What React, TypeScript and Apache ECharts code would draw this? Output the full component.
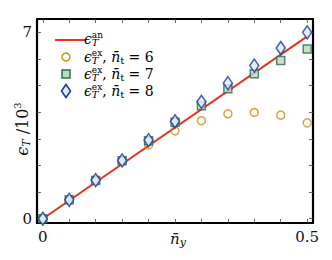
import React, { useEffect, useRef } from "react";
import * as echarts from "echarts";

const nyValues = [0, 0.05, 0.1, 0.15, 0.2, 0.25, 0.3, 0.35, 0.4, 0.45, 0.5];
const analyticX = [0, 0.5];
const analyticY = [0, 6.85];
const exact6 = [0, 0.71, 1.44, 2.16, 2.77, 3.3, 3.68, 3.94, 3.99, 3.89, 3.6];
const exact7 = [0, 0.71, 1.44, 2.18, 2.93, 3.62, 4.24, 4.88, 5.44, 5.94, 6.37];
const exact8 = [0, 0.71, 1.45, 2.19, 2.95, 3.66, 4.39, 5.09, 5.75, 6.41, 7.0];
const xTicks = [0, 0.05, 0.1, 0.15, 0.2, 0.25, 0.3, 0.35, 0.4, 0.45, 0.5];
const xTickLabels = [0, 0.5];
const yTicks = [0, 1, 2, 3, 4, 5, 6, 7];
const yTickLabels = [0, 7];
const nbarValues = ["6", "7", "8"];

const SERIF = "'DejaVu Serif', 'Liberation Serif', serif";
const LINE_COLOR = "#e2351a";
const C6 = "#d18c12";
const C7_BORDER = "#2f6b4f";
const C7_FILL = "#b9dcc0";
const C8_BORDER = "#1f3ba0";
const C8_FILL = "#e4ecff";

function makeRich(base: number): any {
  const small = Math.round(base * 0.64);
  return {
    e: { fontFamily: SERIF, fontStyle: "italic", fontSize: base, color: "#111" },
    sup: { fontFamily: SERIF, fontSize: small, color: "#111", padding: [0, 0, Math.round(base * 0.6), 0] },
    subz: { fontFamily: SERIF, fontStyle: "italic", fontSize: small + 1, color: "#111", width: 0, padding: [Math.round(base * 0.47), 0, 0, 0] },
    sub: { fontFamily: SERIF, fontStyle: "italic", fontSize: small + 1, color: "#111", padding: [Math.round(base * 0.47), 0, 0, 0] },
    subr: { fontFamily: SERIF, fontSize: small + 1, color: "#111", padding: [Math.round(base * 0.4), 0, 0, 0] },
    t: { fontFamily: SERIF, fontSize: base, color: "#111" },
    n: { fontFamily: SERIF, fontStyle: "italic", fontSize: base, color: "#111" },
  };
}
const legendRich = makeRich(14);
const axisRich = makeRich(16);

const legendTexts = [
  "{e|ϵ}{subz|T}{sup|an}",
  ...nbarValues.map((v) => "{e|ϵ}{subz|T}{sup|ex}{t|,}{n| n̄}{subr|t}{t| = " + v + "}"),
];

export default function App() {
  const ref = useRef<HTMLDivElement>(null);
  useEffect(() => {
    if (!ref.current) return;
    const chart = echarts.init(ref.current, null, { renderer: "svg" });
    const xMin = -0.011;
    const xMax = 0.511;
    const yMin = -0.16;
    const yMax = 7.5;
    const axisLine = { show: true, onZero: false, lineStyle: { color: "#000", width: 2.2 } };
    const tickStyle = { lineStyle: { color: "#444", width: 0.8 } };

    const lx = 66;
    const ly = [39, 57, 74, 91];
    const tx = 84;
    const legendGraphics: any[] = [
      { type: "line", shape: { x1: 55, y1: ly[0] + 1, x2: 86, y2: ly[0] + 1 }, style: { stroke: LINE_COLOR, lineWidth: 2 } },
      { type: "circle", shape: { cx: lx, cy: ly[1], r: 4 }, style: { fill: "none", stroke: C6, lineWidth: 1.5 } },
      { type: "rect", shape: { x: lx - 4, y: ly[2] - 4, width: 8, height: 8 }, style: { fill: C7_FILL, stroke: C7_BORDER, lineWidth: 1.5 } },
      {
        type: "polygon",
        shape: { points: [[lx, ly[3] - 6.5], [lx + 4.5, ly[3]], [lx, ly[3] + 6.5], [lx - 4.5, ly[3]]] },
        style: { fill: C8_FILL, stroke: C8_BORDER, lineWidth: 1.6 },
      },
      ...legendTexts.map((t, i) => ({
        type: "text",
        x: tx,
        y: ly[i],
        style: { text: t, rich: legendRich, verticalAlign: "middle", align: "left" },
      })),
    ];

    chart.setOption({
      animation: false,
      backgroundColor: "#fff",
      grid: { left: 37, right: 19, top: 19, bottom: 37, outerBoundsMode: "none", containLabel: false },
      graphic: legendGraphics,
      xAxis: [
        {
          type: "value",
          min: xMin,
          max: xMax,
          position: "bottom",
          axisLine,
          splitLine: { show: false },
          axisTick: { show: true, inside: true, length: 4, customValues: xTicks, ...tickStyle },
          axisLabel: {
            customValues: xTickLabels,
            fontFamily: SERIF,
            fontSize: 15,
            color: "#111",
            margin: 6,
            formatter: (v: number) => String(v),
          },
          name: "{n|n̄}{sub|y}",
          nameLocation: "middle",
          nameGap: 7,
          nameMoveOverlap: false,
          nameTextStyle: { rich: makeRich(15), padding: [0, 0, 0, 6] },
        },
        {
          type: "value",
          min: xMin,
          max: xMax,
          position: "top",
          axisLine,
          splitLine: { show: false },
          axisTick: { show: true, inside: true, length: 4, customValues: xTicks, ...tickStyle },
          axisLabel: { show: false },
        },
      ],
      yAxis: [
        {
          type: "value",
          min: yMin,
          max: yMax,
          position: "left",
          axisLine,
          splitLine: { show: false },
          axisTick: { show: true, inside: true, length: 4, customValues: yTicks, ...tickStyle },
          axisLabel: {
            customValues: yTickLabels,
            fontFamily: SERIF,
            fontSize: 15,
            color: "#111",
            margin: 5,
          },
          name: "{e|ϵ}{sub|T}{t| /10}{sup|3}",
          nameLocation: "middle",
          nameRotate: 90,
          nameGap: 5,
          nameMoveOverlap: false,
          nameTextStyle: { rich: axisRich, padding: [0, 16, 0, 0] },
        },
        {
          type: "value",
          min: yMin,
          max: yMax,
          position: "right",
          axisLine,
          splitLine: { show: false },
          axisTick: { show: true, inside: true, length: 4, customValues: yTicks, ...tickStyle },
          axisLabel: { show: false },
        },
      ],
      series: [
        {
          name: "an",
          type: "line",
          data: analyticX.map((x, i) => [x, analyticY[i]]),
          showSymbol: false,
          symbol: "none",
          lineStyle: { color: LINE_COLOR, width: 2 },
          itemStyle: { color: LINE_COLOR },
          clip: false,
          z: 2,
        },
        {
          name: "n6",
          type: "scatter",
          data: nyValues.map((x, i) => [x, exact6[i]]),
          symbol: "circle",
          symbolSize: 8,
          itemStyle: { color: "rgba(255,255,255,0)", borderColor: C6, borderWidth: 1.5 },
          clip: false,
          z: 3,
        },
        {
          name: "n7",
          type: "scatter",
          data: nyValues.map((x, i) => [x, exact7[i]]),
          symbol: "rect",
          symbolSize: 8,
          itemStyle: { color: C7_FILL, borderColor: C7_BORDER, borderWidth: 1.5 },
          clip: false,
          z: 4,
        },
        {
          name: "n8",
          type: "scatter",
          data: nyValues.map((x, i) => [x, exact8[i]]),
          symbol: "diamond",
          symbolSize: [9, 13],
          itemStyle: { color: C8_FILL, borderColor: C8_BORDER, borderWidth: 1.6 },
          clip: false,
          z: 5,
        },
      ],
    });
    return () => chart.dispose();
  }, []);
  return (
    <div
      ref={ref}
      style={{ position: "absolute", left: 0, top: 0, width: 332, height: 260 }}
    />
  );
}
